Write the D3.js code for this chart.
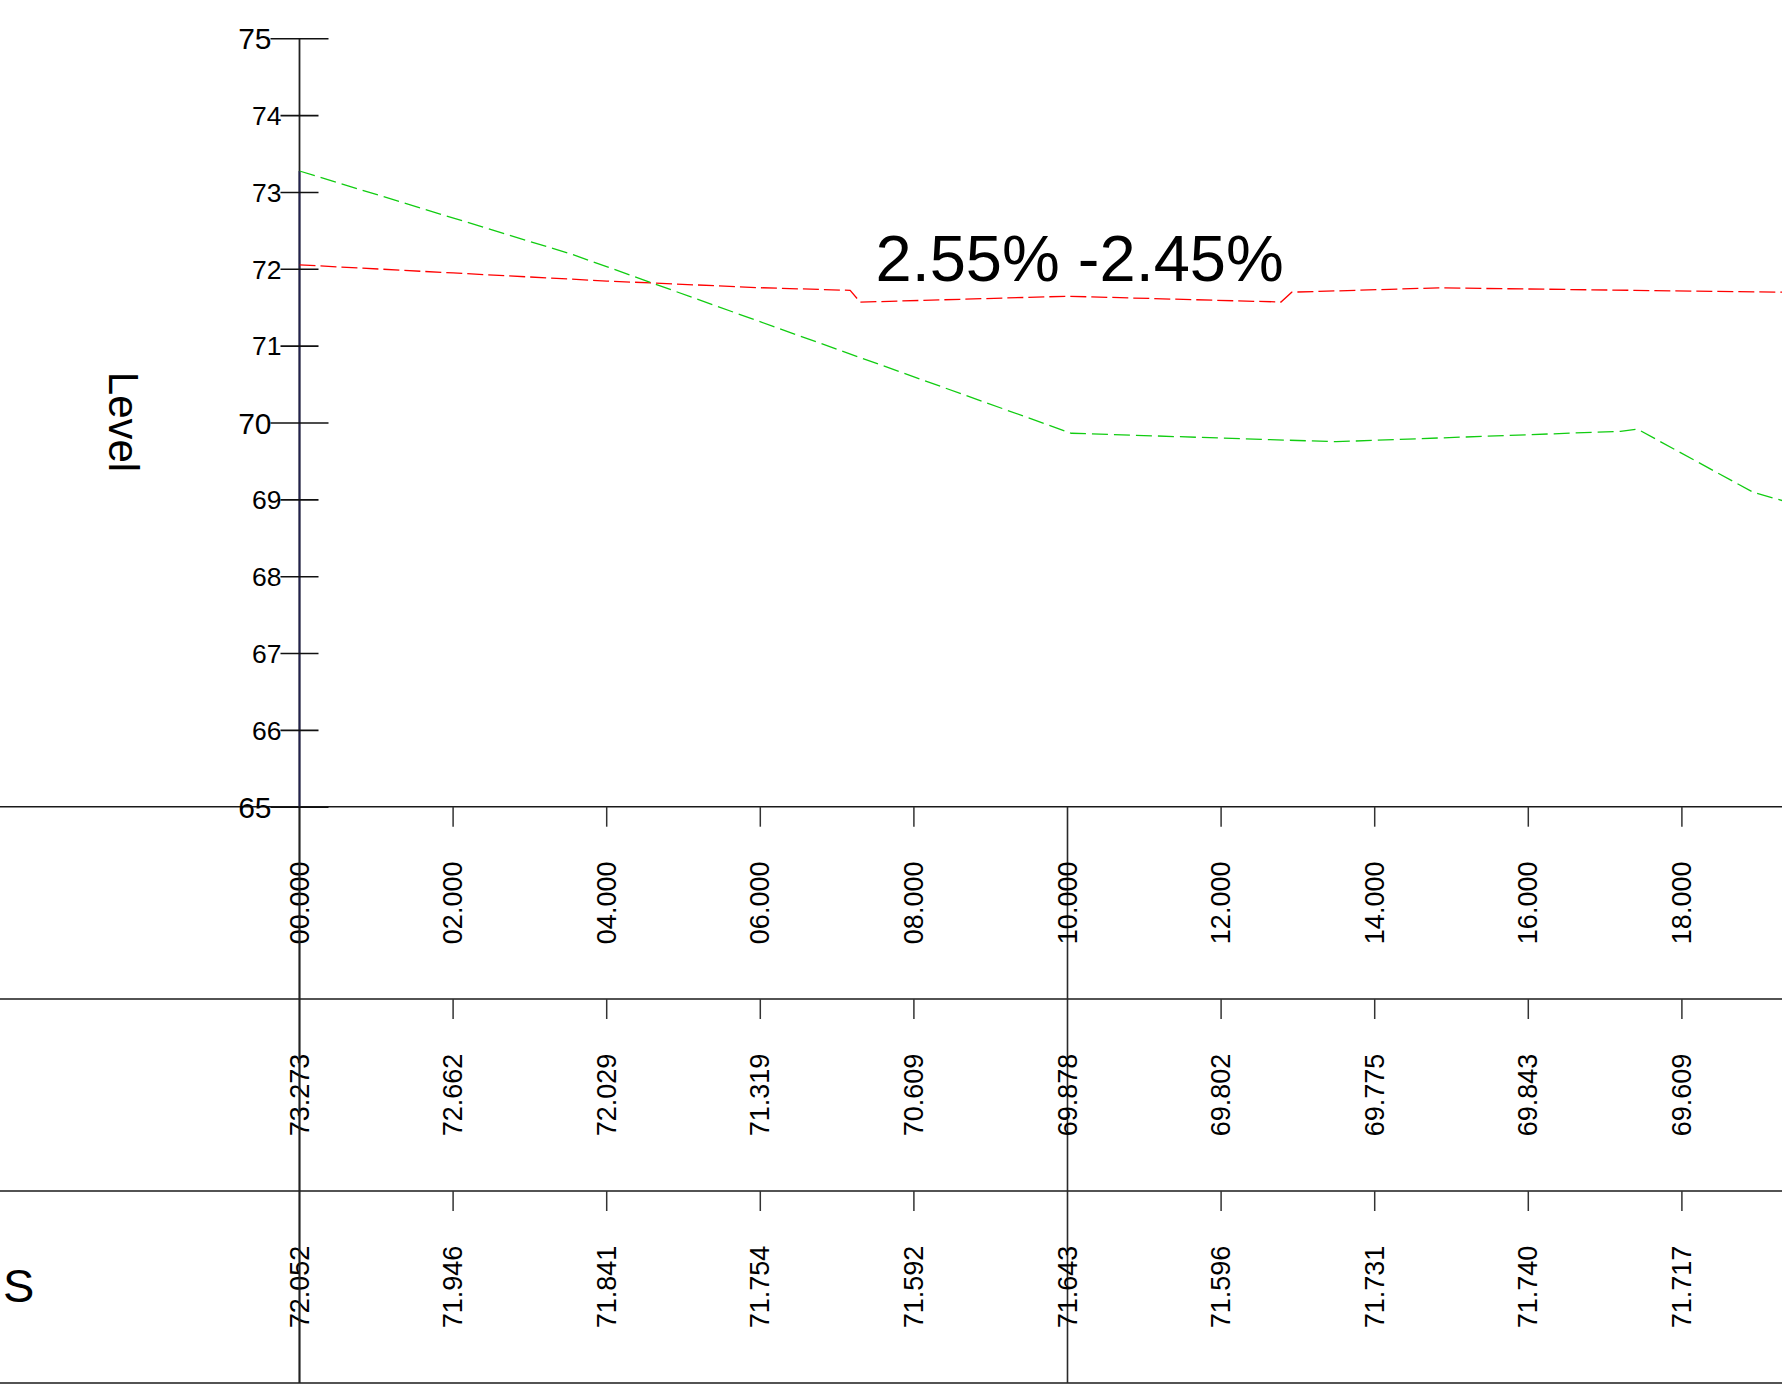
<!DOCTYPE html>
<html>
<head>
<meta charset="utf-8">
<script src="https://cdn.jsdelivr.net/npm/d3@7"></script>
<style>
html,body{margin:0;padding:0;background:#fff;}
svg{display:block;font-family:"Liberation Sans",Arial,sans-serif;}
</style>
</head>
<body>
<svg id="chart" width="1782" height="1394"></svg>
<script>
// ---------- data ----------
const stations = [0, 2, 4, 6, 8, 10, 12, 14, 16, 18];
const stationLabels = ["00.000","02.000","04.000","06.000","08.000","10.000","12.000","14.000","16.000","18.000"];
const groundLevels = [73.273, 72.662, 72.029, 71.319, 70.609, 69.878, 69.802, 69.775, 69.843, 69.609];
const designLevels = [72.052, 71.946, 71.841, 71.754, 71.592, 71.643, 71.596, 71.731, 71.740, 71.717];
const majorStations = [0, 10];

// profile vertices
const groundProfileX = [0, 3.56, 10.05, 13.5, 17.2, 17.42, 18.93, 19.5];
const groundProfileY = [73.273, 72.185, 69.86, 69.75, 69.885, 69.915, 69.09, 68.93];
const designProfileX = [0, 2, 4, 6, 7.17, 7.30, 10.0, 12.78, 12.92, 14.83, 17.38, 19.5];
const designProfileY = [72.052, 71.946, 71.841, 71.754, 71.72, 71.566, 71.643, 71.568, 71.696, 71.752, 71.72, 71.693];

const yTicks = [65, 66, 67, 68, 69, 70, 71, 72, 73, 74, 75];
const majorYTicks = [65, 70, 75];
const rowLabels = ["", "", "S"];
const gradeText = "2.55% -2.45%";
const gradeAnchor = [7.5, 71.84];
const axisTitle = "Level";

// ---------- layout ----------
const W = 1782, H = 1394;
const x0 = 299.5, unit = 76.8;
const yBottom = 806.7, yTop = 38.3;
const rowEdges = [806.7, 999, 1191, 1383];

const svg = d3.select("#chart");
const x = d3.scaleLinear().domain([0, 20]).range([x0, x0 + 20 * unit]);
const y = d3.scaleLinear().domain([65, 75]).range([yBottom, yTop]);

// ---------- table ----------
const table = svg.append("g");
rowEdges.forEach(ry => {
  table.append("line").attr("x1", 0).attr("x2", W).attr("y1", ry).attr("y2", ry)
    .attr("stroke", "#1a1a1a").attr("stroke-width", 1.6);
});
// short ticks at top of each row
for (let r = 0; r < 3; r++) {
  table.selectAll(null).data(stations.filter(s => !majorStations.includes(s))).enter()
    .append("line")
    .attr("x1", d => x(d)).attr("x2", d => x(d))
    .attr("y1", rowEdges[r]).attr("y2", rowEdges[r] + 20)
    .attr("stroke", "#333").attr("stroke-width", 1.5);
}
// full vertical lines at major stations
table.selectAll(null).data(majorStations).enter().append("line")
  .attr("x1", d => x(d)).attr("x2", d => x(d))
  .attr("y1", rowEdges[0]).attr("y2", rowEdges[3])
  .attr("stroke", "#2a2a2a").attr("stroke-width", 1.6);

const rowTexts = [
  stationLabels,
  groundLevels.map(d3.format(".3f")),
  designLevels.map(d3.format(".3f"))
];
rowTexts.forEach((arr, r) => {
  const cy = (rowEdges[r] + rowEdges[r + 1]) / 2;
  table.selectAll(null).data(stations).enter().append("text")
    .attr("transform", (d) => `translate(${x(d)},${cy}) rotate(-90)`)
    .attr("text-anchor", "middle")
    .attr("dominant-baseline", "central")
    .attr("font-size", 27)
    .attr("fill", "#000")
    .text((d, i) => arr[i]);
  if (rowLabels[r]) {
    table.append("text").attr("x", 3).attr("y", cy + 15)
      .attr("font-size", 47).attr("fill", "#000").text(rowLabels[r]);
  }
});

// ---------- y axis ----------
svg.append("line").attr("x1", x0).attr("x2", x0).attr("y1", yTop).attr("y2", rowEdges[3])
  .attr("stroke", "#222").attr("stroke-width", 1.8);
svg.append("line").attr("x1", x0).attr("x2", x0).attr("y1", y(groundLevels[0])).attr("y2", yBottom)
  .attr("stroke", "#22224e").attr("stroke-width", 1.8);

const yAxis = svg.append("g").attr("transform", `translate(${x0},0)`)
  .call(d3.axisLeft(y).tickValues(yTicks).tickFormat(d3.format("d")).tickSizeOuter(0));
yAxis.select(".domain").remove();
yAxis.selectAll(".tick line")
  .attr("x1", d => majorYTicks.includes(d) ? -29 : -19)
  .attr("x2", d => majorYTicks.includes(d) ? 29 : 19)
  .attr("stroke", "#111").attr("stroke-width", 1.6);
yAxis.selectAll(".tick text")
  .attr("x", d => majorYTicks.includes(d) ? -28 : -18)
  .attr("dy", "0.35em")
  .attr("font-family", "'Liberation Sans',Arial,sans-serif")
  .attr("font-size", d => majorYTicks.includes(d) ? 30 : 26.5)
  .attr("fill", "#000");

svg.append("text")
  .attr("transform", `translate(123.5,422) rotate(90)`)
  .attr("text-anchor", "middle").attr("dominant-baseline", "central")
  .attr("font-size", 42).attr("fill", "#000").text(axisTitle);

// ---------- profiles ----------
const line = d3.line().x(d => x(d[0])).y(d => y(d[1]));
const clip = svg.append("defs").append("clipPath").attr("id", "plotclip");
clip.append("rect").attr("x", x0).attr("y", 0).attr("width", W - x0).attr("height", yBottom);

svg.append("path")
  .datum(designProfileX.map((d, i) => [d, designProfileY[i]]))
  .attr("d", line).attr("fill", "none").attr("clip-path", "url(#plotclip)")
  .attr("stroke", "#ff0000").attr("stroke-width", 1.3).attr("stroke-dasharray", "16,5");

svg.append("path")
  .datum(groundProfileX.map((d, i) => [d, groundProfileY[i]]))
  .attr("d", line).attr("fill", "none").attr("clip-path", "url(#plotclip)")
  .attr("stroke", "#11cc11").attr("stroke-width", 1.3).attr("stroke-dasharray", "16,6");

// ---------- grade annotation ----------
svg.append("text")
  .attr("x", x(gradeAnchor[0])).attr("y", y(gradeAnchor[1]))
  .attr("font-size", 65).attr("fill", "#000").text(gradeText);
</script>
</body>
</html>
